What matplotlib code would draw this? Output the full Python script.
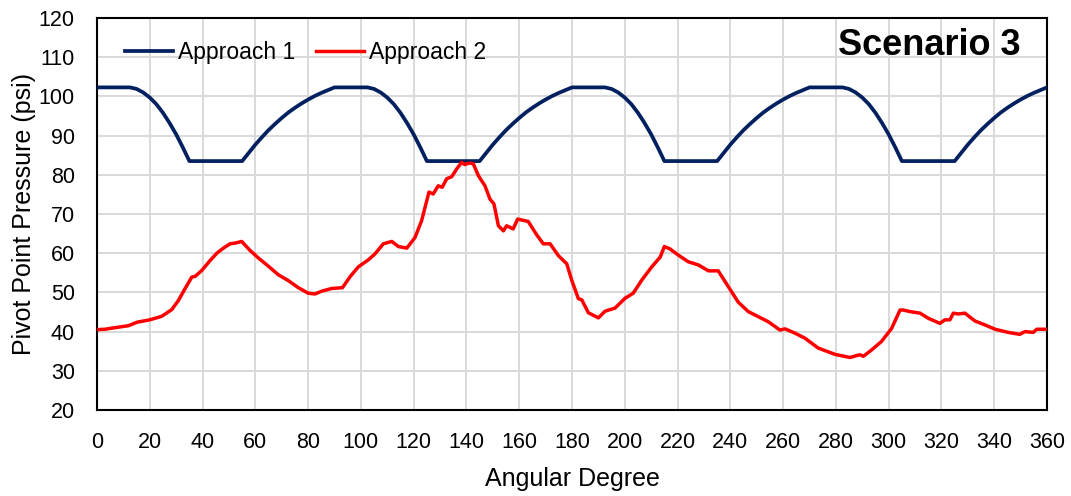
import matplotlib
matplotlib.use('Agg')
import matplotlib.pyplot as plt

plt.rcParams['font.family'] = ['Liberation Sans', 'DejaVu Sans']

# Approach 1
deg_a1 = [0, 12.5, 15, 17.5, 20, 22.5, 25, 27.5, 30, 32.5, 35, 55,
          57.5, 60, 62.5, 65, 67.5, 70, 72.5, 75, 77.5, 80, 82.5, 85, 87.5, 90,
          102.5, 105, 107.5, 110, 112.5, 115, 117.5, 120, 122.5, 125, 145,
          147.5, 150, 152.5, 155, 157.5, 160, 162.5, 165, 167.5, 170, 172.5, 175, 177.5, 180,
          192.5, 195, 197.5, 200, 202.5, 205, 207.5, 210, 212.5, 215, 235,
          237.5, 240, 242.5, 245, 247.5, 250, 252.5, 255, 257.5, 260, 262.5, 265, 267.5, 270,
          282.5, 285, 287.5, 290, 292.5, 295, 297.5, 300, 302.5, 305, 325,
          327.5, 330, 332.5, 335, 337.5, 340, 342.5, 345, 347.5, 350, 352.5, 355, 357.5, 360]
psi_a1 = [102.3, 102.3, 101.9, 101.0, 99.7, 98.0, 95.8, 93.2, 90.3, 87.0, 83.5, 83.5,
          85.6, 87.7, 89.6, 91.4, 93.0, 94.5, 95.9, 97.1, 98.2, 99.2, 100.1, 100.9, 101.6, 102.3,
          102.3, 101.9, 101.0, 99.7, 98.0, 95.8, 93.2, 90.3, 87.0, 83.5, 83.5,
          85.6, 87.7, 89.6, 91.4, 93.0, 94.5, 95.9, 97.1, 98.2, 99.2, 100.1, 100.9, 101.6, 102.3,
          102.3, 101.9, 101.0, 99.7, 98.0, 95.8, 93.2, 90.3, 87.0, 83.5, 83.5,
          85.6, 87.7, 89.6, 91.4, 93.0, 94.5, 95.9, 97.1, 98.2, 99.2, 100.1, 100.9, 101.6, 102.3,
          102.3, 101.9, 101.0, 99.7, 98.0, 95.8, 93.2, 90.3, 87.0, 83.5, 83.5,
          85.6, 87.7, 89.6, 91.4, 93.0, 94.5, 95.9, 97.1, 98.2, 99.2, 100.1, 100.9, 101.6, 102.3]

# Approach 2
deg_a2 = [0, 3, 6.8, 11.9, 15.2, 20, 24.5, 28.3, 30.8, 33.3, 35.9, 37.2, 39.7, 42.8,
          45.4, 47.9, 50.4, 52.5, 54.8, 58, 61.1, 64.9, 68.7, 72.5, 76.3, 80, 82.6,
          85.1, 88.9, 93, 95.9, 99, 102.8, 105.3, 108.5, 111.7, 114.2, 117.4, 120.5,
          123, 125.8, 127.4, 129.3, 130.8, 132.5, 134.4, 136.3, 138.2, 139.3, 140.1,
          141.3, 142.6, 144.5, 147, 148.9, 150.4, 152.1, 154, 155.2, 157.7, 159.4,
          163.4, 166.6, 169.1, 171.7, 174.8, 178, 179.9, 182.4, 183.7, 186.2, 190,
          192.5, 196.3, 200.1, 203.2, 206.4, 210.2, 213.4, 215, 217.1, 220.3, 224.1,
          227.9, 231.7, 235.4, 239.2, 243, 246.8, 250.6, 254.4, 258.8, 260.7, 264.5,
          268.3, 273.3, 279.6, 285.3, 289.1, 290.4, 293.5, 297.3, 301.1, 304.3, 305.5,
          308.1, 311.9, 315, 319.4, 321.3, 323.2, 324.5, 326.4, 328.9, 332.7, 336.5,
          340.3, 345.3, 349.7, 351.6, 354.8, 356.1, 360]
psi_a2 = [40.5, 40.6, 41.0, 41.5, 42.4, 43.0, 43.9, 45.6, 47.9, 50.9, 53.9, 54.1, 55.6, 58.1,
          60.0, 61.3, 62.4, 62.6, 63.0, 60.7, 58.8, 56.7, 54.5, 53.0, 51.2, 49.8, 49.6,
          50.3, 51.0, 51.2, 54.0, 56.5, 58.3, 59.8, 62.4, 63.0, 61.7, 61.3, 64.0,
          68.3, 75.6, 75.1, 77.2, 76.8, 79.0, 79.5, 81.5, 83.2, 82.6, 82.8,
          83.0, 82.8, 79.8, 77.2, 73.8, 72.6, 67.0, 65.7, 67.0, 66.2, 68.7,
          68.1, 64.7, 62.4, 62.4, 59.4, 57.3, 53.1, 48.4, 48.1, 44.8, 43.5,
          45.2, 46.0, 48.5, 49.8, 53.1, 56.5, 59.0, 61.7, 61.1, 59.5, 57.8,
          57.0, 55.5, 55.5, 51.5, 47.5, 45.1, 43.8, 42.5, 40.4, 40.7, 39.6,
          38.3, 35.8, 34.2, 33.4, 34.1, 33.7, 35.3, 37.5, 40.8, 45.5, 45.5,
          45.1, 44.7, 43.4, 42.1, 43.0, 43.0, 44.7, 44.5, 44.7, 42.7, 41.7,
          40.6, 39.8, 39.3, 40.0, 39.8, 40.6, 40.6]

x_ticks = list(range(0, 361, 20))
y_ticks = list(range(20, 121, 10))

fig = plt.figure(figsize=(10.71, 4.96), dpi=100)
ax = fig.add_axes([0.0906, 0.1734, 0.887, 0.7903])

ax.plot(deg_a1, psi_a1, color='#002060', lw=2.7, label='Approach 1', zorder=3)
ax.plot(deg_a2, psi_a2, color='#ff0000', lw=2.5, label='Approach 2', zorder=3)

ax.set_xlim(0, 360)
ax.set_ylim(20, 120)
ax.set_xticks(x_ticks)
ax.set_yticks(y_ticks)
ax.grid(True, color='#d9d9d9', lw=1.4)
ax.set_axisbelow(True)
for s in ax.spines.values():
    s.set_color('black')
    s.set_linewidth(1.5)
ax.tick_params(length=0, labelsize=15.5, colors='black')
ax.tick_params(axis='x', pad=16)
ax.tick_params(axis='y', pad=16)

ax.set_xlabel('Angular Degree', fontsize=18, labelpad=10)
ax.set_ylabel('Pivot Point Pressure (psi)', fontsize=18, labelpad=2)

ax.legend(loc='upper left', bbox_to_anchor=(0.008, 0.995), ncol=2, frameon=False,
          fontsize=16.5, handlelength=2.1, handletextpad=0.2, columnspacing=0.9)
ax.text(0.9716, 0.93, 'Scenario 3', transform=ax.transAxes, ha='right', va='center',
        fontsize=26, fontweight='bold')

fig.savefig('out.png', dpi=100)
